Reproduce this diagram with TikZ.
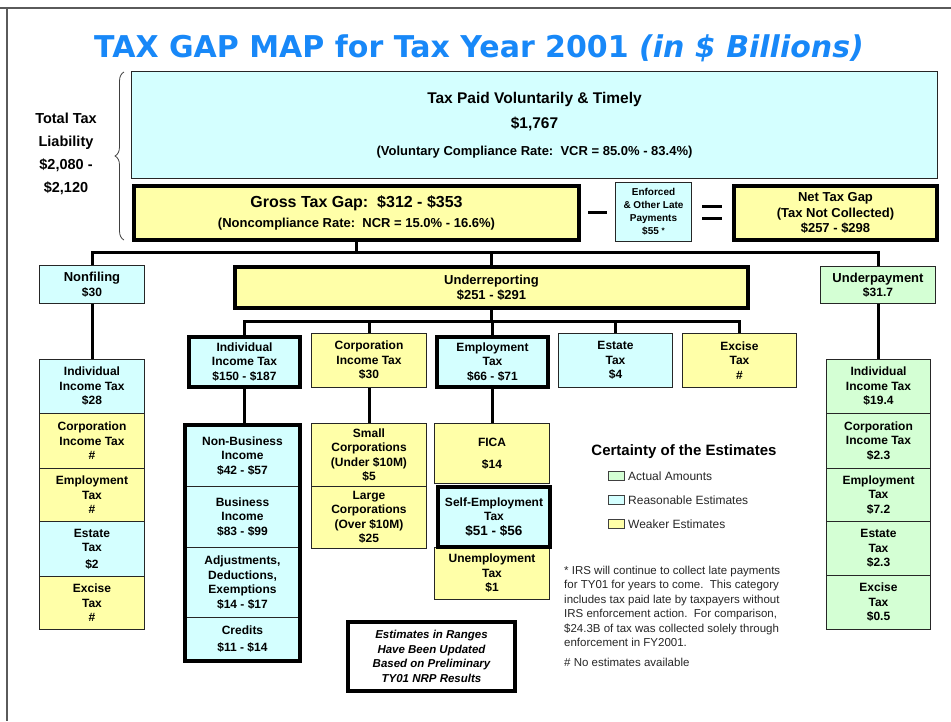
\documentclass[tikz,border=0pt]{standalone}
\usepackage{fontspec}
\setmainfont{Liberation Sans}
\newfontfamily\titlefont{DejaVu Sans}
\usetikzlibrary{decorations.pathreplacing}

\definecolor{titleblue}{RGB}{24,136,248}
\definecolor{boxcyan}{RGB}{212,255,255}
\definecolor{boxyellow}{RGB}{255,255,168}
\definecolor{boxgreen}{RGB}{212,255,212}
\definecolor{framegray}{RGB}{90,90,90}

\newcommand{\fs}[2]{\fontsize{#1}{#2}\selectfont}
% box from top-left (x1,y1) to bottom-right (x2,y2), y measured downwards
\newcommand{\tbox}[7]{\node[#6, minimum width={#4-#2}, minimum height={#5-#3}] (#1) at (#2,#3) {#7};}

\begin{document}
\begin{tikzpicture}[x=1pt,y=-1pt,
  box/.style={draw=black!85, line width=1pt, inner sep=0pt, align=center,
    anchor=north west, font=\bfseries\fs{12}{14.5}, text=black},
  heavybox/.style={box, draw=black, line width=4pt},
  cy/.style={fill=boxcyan}, yl/.style={fill=boxyellow}, gr/.style={fill=boxgreen},
  conn/.style={draw=black, line width=3pt},
  swatch/.style={draw=black!75, line width=0.8pt, minimum width=16pt,
    minimum height=9pt, inner sep=0pt},
  legtext/.style={anchor=west, inner sep=0pt, font=\fs{12}{14}, text=black!85},
]
\useasboundingbox (0,0) rectangle (951,721);

% page frame
\draw[framegray, line width=1.5pt] (0,8) -- (951,8);
\draw[framegray, line width=1.5pt] (7,8) -- (7,721);

% title
\node[anchor=base, inner sep=0pt, text=titleblue, font=\titlefont\bfseries\fs{30}{36}]
  (title) at (479,57) {TAX GAP MAP for Tax Year 2001 \textit{(in \$ Billions)}};

% total liability with brace
\node[inner sep=0pt, align=center, font=\bfseries\fs{14.5}{23}] (total) at (66,154)
  {Total Tax\\Liability\\\$2,080 -\\\$2,120};
\draw[black!75, line width=0.8pt, decorate, decoration={brace, amplitude=9pt}]
  (124,240) -- (124,72);

% top row
\tbox{paid}{131}{71}{937}{178}{box,cy,font=\bfseries\fs{15.5}{25}}
  {Tax Paid Voluntarily \& Timely\\\$1,767\\[2pt]
   \fs{13}{14}(Voluntary Compliance Rate:\ \ VCR = 85.0\% - 83.4\%)}
\tbox{gross}{132}{184}{577}{238}{heavybox,yl,font=\bfseries\fs{16}{20}}
  {Gross Tax Gap:\ \ \$312 - \$353\\\fs{13}{14}(Noncompliance Rate:\ \ NCR = 15.0\% - 16.6\%)}
\tbox{enf}{615}{182}{691}{241}{box,cy,font=\bfseries\fs{10}{13}}
  {Enforced\\\& Other Late\\Payments\\\$55 \raisebox{1.5pt}{\fs{8}{8}*}}
\tbox{net}{732}{184}{935}{238}{heavybox,yl,font=\bfseries\fs{13}{15.5}}
  {Net Tax Gap\\(Tax Not Collected)\\\$257 - \$298}
\draw[black, line width=3pt] (588,212) -- (607,212);
\draw[black, line width=3pt] (702,206) -- (722,206);
\draw[black, line width=3pt] (702,218) -- (722,218);

% three kinds of gap
\tbox{nonfil}{39}{265}{144}{303}{box,cy,font=\bfseries\fs{13}{14.5}}{Nonfiling\\\fs{12}{14}\$30}
\tbox{underrep}{233}{265}{746}{306}{heavybox,yl,font=\bfseries\fs{13}{15}}{Underreporting\\\$251 - \$291}
\tbox{underpay}{820}{266}{935}{303}{box,gr,font=\bfseries\fs{13}{14.5}}{Underpayment\\\fs{12}{14}\$31.7}

% nonfiling breakdown
\tbox{nf1}{39}{359}{144}{413}{box,cy}{Individual\\Income Tax\\\$28}
\tbox{nf2}{39}{413}{144}{468}{box,yl}{Corporation\\Income Tax\\\#}
\tbox{nf3}{39}{468}{144}{521}{box,yl}{Employment\\Tax\\\#}
\tbox{nf4}{39}{521}{144}{576}{box,cy}{Estate\\Tax\\[2pt]\$2}
\tbox{nf5}{39}{576}{144}{629}{box,yl}{Excise\\Tax\\\#}

% underpayment breakdown
\tbox{up1}{826}{359}{930}{413}{box,gr}{Individual\\Income Tax\\\$19.4}
\tbox{up2}{826}{413}{930}{468}{box,gr}{Corporation\\Income Tax\\\$2.3}
\tbox{up3}{826}{468}{930}{521}{box,gr}{Employment\\Tax\\\$7.2}
\tbox{up4}{826}{521}{930}{575}{box,gr}{Estate\\Tax\\\$2.3}
\tbox{up5}{826}{575}{930}{629}{box,gr}{Excise\\Tax\\\$0.5}

% underreporting by tax type
\tbox{uind}{187}{335}{298}{385}{heavybox,cy}{Individual\\Income Tax\\\$150 - \$187}
\tbox{ucorp}{311}{333}{426}{387}{box,yl}{Corporation\\Income Tax\\\$30}
\tbox{uemp}{435}{335}{546}{385}{heavybox,cy}{Employment\\Tax\\\$66 - \$71}
\tbox{uest}{558}{333}{672}{387}{box,cy}{Estate\\Tax\\\$4}
\tbox{uexc}{682}{333}{796}{387}{box,yl}{Excise\\Tax\\\#}

% individual income tax components
\tbox{nonbus}{185}{425}{299}{486}{box,cy}{Non-Business\\Income\\\$42 - \$57}
\tbox{bus}{185}{486}{299}{547}{box,cy}{Business\\Income\\\$83 - \$99}
\tbox{adj}{185}{547}{299}{617}{box,cy}{Adjustments,\\Deductions,\\Exemptions\\\$14 - \$17}
\tbox{cred}{185}{617}{299}{660}{box,cy}{Credits\\[3pt]\$11 - \$14}
\draw[black, line width=4pt] (nonbus.north west) rectangle (cred.south east);

% corporation income tax components
\tbox{small}{311}{423}{426}{486}{box,yl}{Small\\Corporations\\(Under \$10M)\\\$5}
\tbox{large}{311}{486}{426}{548}{box,yl}{Large\\Corporations\\(Over \$10M)\\\$25}

% employment tax components
\tbox{fica}{434}{423}{549}{483}{box,yl}{FICA\\[7pt]\$14}
\tbox{unemp}{434}{547}{549}{599}{box,yl}{Unemployment\\Tax\\\$1}
\tbox{selfemp}{436}{485}{548}{545}{heavybox,cy}{Self-Employment\\Tax\\\fs{13.5}{15}\$51 - \$56}

% connectors
\coordinate (busA) at (0,252);
\coordinate (busB) at (0,321);
\draw[conn] (gross.south) -- (gross.south |- busA);
\draw[conn, line join=miter] (nonfil.north) -- (nonfil.north |- busA)
  -- (underpay.north |- busA) -- (underpay.north);
\draw[conn] (underrep.north |- busA) -- (underrep.north);
\draw[conn] (nonfil.south) -- (nonfil.south |- nf1.north);
\draw[conn] (underpay.south) -- (underpay.south |- up1.north);
\draw[conn] (underrep.south) -- (underrep.south |- busB);
\draw[conn, line join=miter] (uind.north) -- (uind.north |- busB)
  -- (uexc.north |- busB) -- (uexc.north);
\foreach \n in {ucorp,uemp,uest} \draw[conn] (\n.north |- busB) -- (\n.north);
\draw[conn] (uind.south) -- (uind.south |- nonbus.north);
\draw[conn] (ucorp.south) -- (ucorp.south |- small.north);
\draw[conn] (uemp.south) -- (uemp.south |- fica.north);

% note on ranges
\tbox{ranges}{346}{620}{513}{689}{heavybox,fill=white,font=\bfseries\itshape\fs{11.5}{14.5}}
  {Estimates in Ranges\\Have Been Updated\\Based on Preliminary\\TY01 NRP Results}

% legend
\node[inner sep=0pt, font=\bfseries\fs{15}{16}] (legtitle) at (684,452) {Certainty of the Estimates};
\node[swatch, fill=boxgreen] (sw1) at (616,476) {};
\node[swatch, fill=boxcyan] (sw2) at (616,500) {};
\node[swatch, fill=boxyellow] (sw3) at (616,524) {};
\node[legtext] (lg1) at (628,476) {Actual Amounts};
\node[legtext] (lg2) at (628,500) {Reasonable Estimates};
\node[legtext] (lg3) at (628,524) {Weaker Estimates};

% footnotes
\node[anchor=north west, inner sep=0pt, align=left, font=\fs{11.5}{14.4}, text=black!85]
  (foot) at (564,566)
  {* IRS will continue to collect late payments\\
   for TY01 for years to come.\ \ This category\\
   includes tax paid late by taxpayers without\\
   IRS enforcement action.\ \ For comparison,\\
   \$24.3B of tax was collected solely through\\
   enforcement in FY2001.\\[6pt]
   \# No estimates available};
\end{tikzpicture}
\end{document}
